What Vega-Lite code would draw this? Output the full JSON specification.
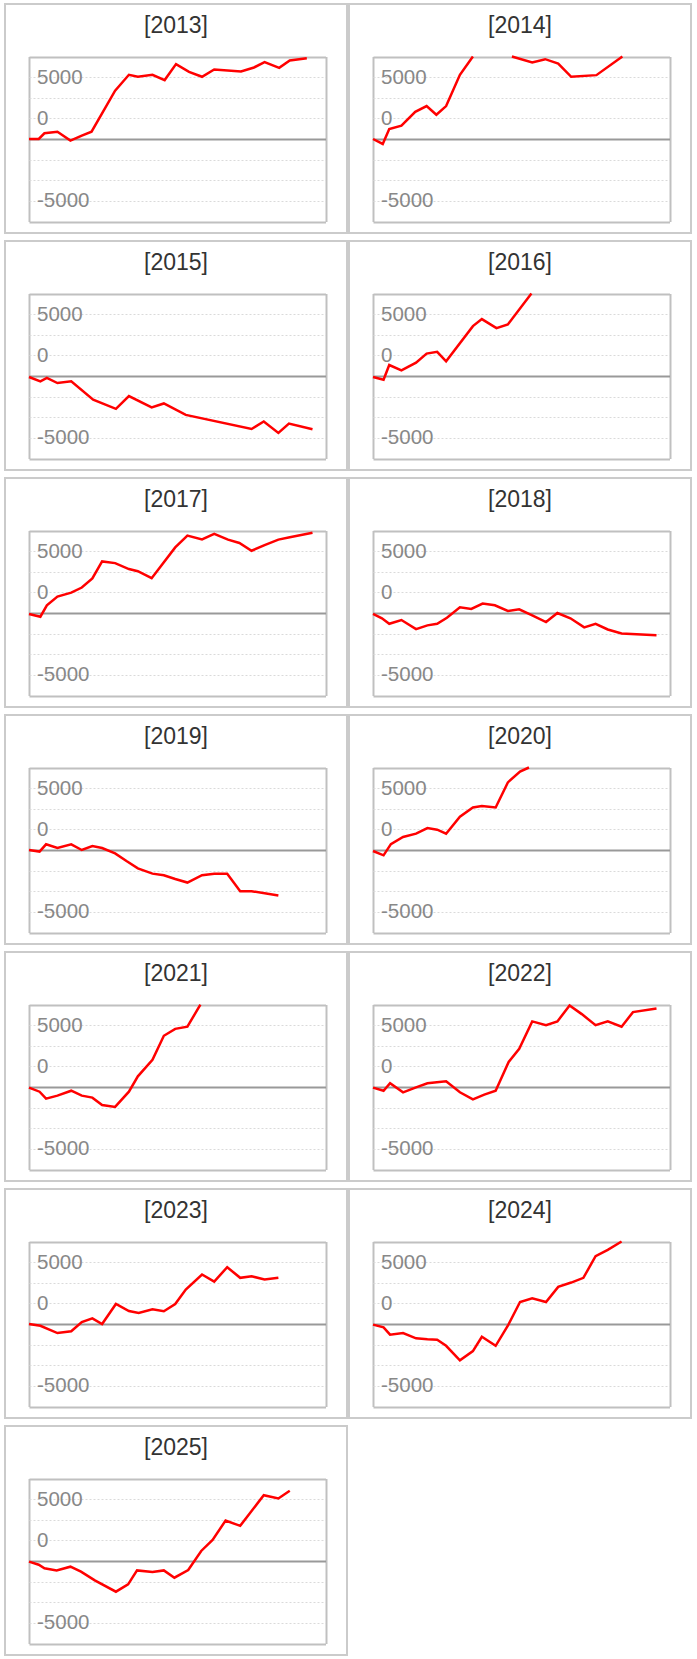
{
  "$schema": "https://vega.github.io/schema/vega-lite/v6.json",
  "background": "white",
  "padding": {"left": 4, "top": 3, "right": 0, "bottom": 3},
  "data": {
    "values": [
      {"year": 2013, "day": 0, "value": 0}, {"year": 2013, "day": 12, "value": 0}, {"year": 2013, "day": 19, "value": 460}, {"year": 2013, "day": 35, "value": 590},
      {"year": 2013, "day": 51, "value": -130}, {"year": 2013, "day": 65, "value": 270}, {"year": 2013, "day": 77, "value": 590}, {"year": 2013, "day": 106, "value": 3900},
      {"year": 2013, "day": 123, "value": 5190}, {"year": 2013, "day": 134, "value": 5030}, {"year": 2013, "day": 152, "value": 5190}, {"year": 2013, "day": 167, "value": 4760},
      {"year": 2013, "day": 181, "value": 6050}, {"year": 2013, "day": 197, "value": 5430}, {"year": 2013, "day": 213, "value": 5030}, {"year": 2013, "day": 228, "value": 5620},
      {"year": 2013, "day": 261, "value": 5460}, {"year": 2013, "day": 277, "value": 5780}, {"year": 2013, "day": 290, "value": 6210}, {"year": 2013, "day": 308, "value": 5750},
      {"year": 2013, "day": 321, "value": 6340}, {"year": 2013, "day": 342, "value": 6530},

      {"year": 2014, "day": 0, "value": 0}, {"year": 2014, "day": 12, "value": -400}, {"year": 2014, "day": 20, "value": 810}, {"year": 2014, "day": 35, "value": 1080},
      {"year": 2014, "day": 52, "value": 2200}, {"year": 2014, "day": 66, "value": 2660}, {"year": 2014, "day": 78, "value": 1960}, {"year": 2014, "day": 90, "value": 2660},
      {"year": 2014, "day": 107, "value": 5190}, {"year": 2014, "day": 123, "value": 6666},
      {"year": 2014, "day": 171, "value": 6666, "seg": 2}, {"year": 2014, "day": 196, "value": 6180, "seg": 2}, {"year": 2014, "day": 212, "value": 6450, "seg": 2},
      {"year": 2014, "day": 228, "value": 6100, "seg": 2}, {"year": 2014, "day": 244, "value": 5030, "seg": 2}, {"year": 2014, "day": 275, "value": 5160, "seg": 2},
      {"year": 2014, "day": 307, "value": 6666, "seg": 2},

      {"year": 2015, "day": 0, "value": -80}, {"year": 2015, "day": 14, "value": -430}, {"year": 2015, "day": 22, "value": -160}, {"year": 2015, "day": 35, "value": -570},
      {"year": 2015, "day": 52, "value": -430}, {"year": 2015, "day": 79, "value": -1920}, {"year": 2015, "day": 107, "value": -2650}, {"year": 2015, "day": 123, "value": -1620},
      {"year": 2015, "day": 151, "value": -2540}, {"year": 2015, "day": 166, "value": -2220}, {"year": 2015, "day": 193, "value": -3140}, {"year": 2015, "day": 274, "value": -4280},
      {"year": 2015, "day": 289, "value": -3680}, {"year": 2015, "day": 307, "value": -4600}, {"year": 2015, "day": 320, "value": -3840}, {"year": 2015, "day": 349, "value": -4300},

      {"year": 2016, "day": 0, "value": -80}, {"year": 2016, "day": 13, "value": -300}, {"year": 2016, "day": 20, "value": 890}, {"year": 2016, "day": 35, "value": 460},
      {"year": 2016, "day": 53, "value": 1080}, {"year": 2016, "day": 66, "value": 1810}, {"year": 2016, "day": 79, "value": 1950}, {"year": 2016, "day": 90, "value": 1190},
      {"year": 2016, "day": 123, "value": 4030}, {"year": 2016, "day": 134, "value": 4600}, {"year": 2016, "day": 152, "value": 3870}, {"year": 2016, "day": 166, "value": 4170},
      {"year": 2016, "day": 195, "value": 6666},

      {"year": 2017, "day": 0, "value": -80}, {"year": 2017, "day": 14, "value": -300}, {"year": 2017, "day": 22, "value": 620}, {"year": 2017, "day": 35, "value": 1330},
      {"year": 2017, "day": 52, "value": 1650}, {"year": 2017, "day": 65, "value": 2060}, {"year": 2017, "day": 78, "value": 2790}, {"year": 2017, "day": 90, "value": 4170},
      {"year": 2017, "day": 106, "value": 4030}, {"year": 2017, "day": 123, "value": 3550}, {"year": 2017, "day": 134, "value": 3380}, {"year": 2017, "day": 151, "value": 2810},
      {"year": 2017, "day": 180, "value": 5300}, {"year": 2017, "day": 195, "value": 6250}, {"year": 2017, "day": 213, "value": 5950}, {"year": 2017, "day": 228, "value": 6390},
      {"year": 2017, "day": 245, "value": 5930}, {"year": 2017, "day": 259, "value": 5660}, {"year": 2017, "day": 274, "value": 5030}, {"year": 2017, "day": 290, "value": 5490},
      {"year": 2017, "day": 307, "value": 5930}, {"year": 2017, "day": 321, "value": 6120}, {"year": 2017, "day": 349, "value": 6490},

      {"year": 2018, "day": 0, "value": -80}, {"year": 2018, "day": 11, "value": -430}, {"year": 2018, "day": 20, "value": -870}, {"year": 2018, "day": 35, "value": -570},
      {"year": 2018, "day": 53, "value": -1300}, {"year": 2018, "day": 67, "value": -1000}, {"year": 2018, "day": 79, "value": -870}, {"year": 2018, "day": 91, "value": -380},
      {"year": 2018, "day": 107, "value": 460}, {"year": 2018, "day": 121, "value": 330}, {"year": 2018, "day": 135, "value": 760}, {"year": 2018, "day": 150, "value": 620},
      {"year": 2018, "day": 166, "value": 160}, {"year": 2018, "day": 180, "value": 300}, {"year": 2018, "day": 196, "value": -190}, {"year": 2018, "day": 213, "value": -730},
      {"year": 2018, "day": 227, "value": 0}, {"year": 2018, "day": 243, "value": -430}, {"year": 2018, "day": 260, "value": -1160}, {"year": 2018, "day": 274, "value": -870},
      {"year": 2018, "day": 289, "value": -1330}, {"year": 2018, "day": 306, "value": -1650}, {"year": 2018, "day": 349, "value": -1790},

      {"year": 2019, "day": 0, "value": 0}, {"year": 2019, "day": 13, "value": -130}, {"year": 2019, "day": 21, "value": 460}, {"year": 2019, "day": 35, "value": 160},
      {"year": 2019, "day": 52, "value": 460}, {"year": 2019, "day": 65, "value": 0}, {"year": 2019, "day": 78, "value": 320}, {"year": 2019, "day": 90, "value": 160},
      {"year": 2019, "day": 106, "value": -270}, {"year": 2019, "day": 120, "value": -890}, {"year": 2019, "day": 134, "value": -1480}, {"year": 2019, "day": 152, "value": -1910},
      {"year": 2019, "day": 166, "value": -2040}, {"year": 2019, "day": 180, "value": -2340}, {"year": 2019, "day": 195, "value": -2630}, {"year": 2019, "day": 213, "value": -2040},
      {"year": 2019, "day": 228, "value": -1910}, {"year": 2019, "day": 244, "value": -1910}, {"year": 2019, "day": 260, "value": -3330}, {"year": 2019, "day": 274, "value": -3330},
      {"year": 2019, "day": 307, "value": -3680},

      {"year": 2020, "day": 0, "value": -80}, {"year": 2020, "day": 13, "value": -430}, {"year": 2020, "day": 22, "value": 480}, {"year": 2020, "day": 37, "value": 1050},
      {"year": 2020, "day": 53, "value": 1320}, {"year": 2020, "day": 67, "value": 1770}, {"year": 2020, "day": 79, "value": 1640}, {"year": 2020, "day": 90, "value": 1320},
      {"year": 2020, "day": 107, "value": 2690}, {"year": 2020, "day": 123, "value": 3440}, {"year": 2020, "day": 134, "value": 3550}, {"year": 2020, "day": 151, "value": 3440},
      {"year": 2020, "day": 166, "value": 5460}, {"year": 2020, "day": 181, "value": 6340}, {"year": 2020, "day": 192, "value": 6666},

      {"year": 2021, "day": 0, "value": -50}, {"year": 2021, "day": 13, "value": -380}, {"year": 2021, "day": 21, "value": -940}, {"year": 2021, "day": 35, "value": -700},
      {"year": 2021, "day": 52, "value": -300}, {"year": 2021, "day": 65, "value": -700}, {"year": 2021, "day": 78, "value": -860}, {"year": 2021, "day": 90, "value": -1450},
      {"year": 2021, "day": 106, "value": -1610}, {"year": 2021, "day": 123, "value": -380}, {"year": 2021, "day": 134, "value": 860}, {"year": 2021, "day": 152, "value": 2200},
      {"year": 2021, "day": 166, "value": 4140}, {"year": 2021, "day": 180, "value": 4700}, {"year": 2021, "day": 195, "value": 4870}, {"year": 2021, "day": 211, "value": 6666},

      {"year": 2022, "day": 0, "value": -50}, {"year": 2022, "day": 13, "value": -300}, {"year": 2022, "day": 21, "value": 300}, {"year": 2022, "day": 37, "value": -430},
      {"year": 2022, "day": 53, "value": -30}, {"year": 2022, "day": 67, "value": 300}, {"year": 2022, "day": 90, "value": 460}, {"year": 2022, "day": 107, "value": -430},
      {"year": 2022, "day": 123, "value": -1000}, {"year": 2022, "day": 137, "value": -620}, {"year": 2022, "day": 151, "value": -300}, {"year": 2022, "day": 167, "value": 2020},
      {"year": 2022, "day": 180, "value": 3090}, {"year": 2022, "day": 196, "value": 5300}, {"year": 2022, "day": 213, "value": 5000}, {"year": 2022, "day": 227, "value": 5300},
      {"year": 2022, "day": 242, "value": 6590}, {"year": 2022, "day": 257, "value": 5890}, {"year": 2022, "day": 274, "value": 5000}, {"year": 2022, "day": 289, "value": 5300},
      {"year": 2022, "day": 306, "value": 4870}, {"year": 2022, "day": 320, "value": 6050}, {"year": 2022, "day": 349, "value": 6340},

      {"year": 2023, "day": 0, "value": 0}, {"year": 2023, "day": 14, "value": -140}, {"year": 2023, "day": 35, "value": -730}, {"year": 2023, "day": 52, "value": -590},
      {"year": 2023, "day": 65, "value": 160}, {"year": 2023, "day": 78, "value": 460}, {"year": 2023, "day": 90, "value": 0}, {"year": 2023, "day": 107, "value": 1620},
      {"year": 2023, "day": 123, "value": 1050}, {"year": 2023, "day": 135, "value": 890}, {"year": 2023, "day": 152, "value": 1190}, {"year": 2023, "day": 166, "value": 1030},
      {"year": 2023, "day": 180, "value": 1620}, {"year": 2023, "day": 193, "value": 2780}, {"year": 2023, "day": 213, "value": 4000}, {"year": 2023, "day": 228, "value": 3430},
      {"year": 2023, "day": 244, "value": 4590}, {"year": 2023, "day": 260, "value": 3730}, {"year": 2023, "day": 274, "value": 3860}, {"year": 2023, "day": 290, "value": 3590},
      {"year": 2023, "day": 307, "value": 3730},

      {"year": 2024, "day": 0, "value": -50}, {"year": 2024, "day": 13, "value": -270}, {"year": 2024, "day": 21, "value": -860}, {"year": 2024, "day": 37, "value": -730},
      {"year": 2024, "day": 53, "value": -1160}, {"year": 2024, "day": 67, "value": -1240}, {"year": 2024, "day": 79, "value": -1270}, {"year": 2024, "day": 90, "value": -1760},
      {"year": 2024, "day": 107, "value": -2940}, {"year": 2024, "day": 123, "value": -2190}, {"year": 2024, "day": 134, "value": -1030}, {"year": 2024, "day": 151, "value": -1760},
      {"year": 2024, "day": 166, "value": -140}, {"year": 2024, "day": 181, "value": 1780}, {"year": 2024, "day": 196, "value": 2080}, {"year": 2024, "day": 213, "value": 1780},
      {"year": 2024, "day": 228, "value": 3000}, {"year": 2024, "day": 244, "value": 3350}, {"year": 2024, "day": 259, "value": 3730}, {"year": 2024, "day": 274, "value": 5480},
      {"year": 2024, "day": 289, "value": 5990}, {"year": 2024, "day": 306, "value": 6666},

      {"year": 2025, "day": 0, "value": -50}, {"year": 2025, "day": 12, "value": -300}, {"year": 2025, "day": 19, "value": -590}, {"year": 2025, "day": 34, "value": -760},
      {"year": 2025, "day": 51, "value": -460}, {"year": 2025, "day": 64, "value": -860}, {"year": 2025, "day": 81, "value": -1570}, {"year": 2025, "day": 107, "value": -2480},
      {"year": 2025, "day": 122, "value": -1890}, {"year": 2025, "day": 133, "value": -760}, {"year": 2025, "day": 152, "value": -890}, {"year": 2025, "day": 166, "value": -760},
      {"year": 2025, "day": 179, "value": -1350}, {"year": 2025, "day": 196, "value": -730}, {"year": 2025, "day": 212, "value": 810}, {"year": 2025, "day": 226, "value": 1700},
      {"year": 2025, "day": 242, "value": 3270}, {"year": 2025, "day": 260, "value": 2840}, {"year": 2025, "day": 289, "value": 5320}, {"year": 2025, "day": 307, "value": 5050},
      {"year": 2025, "day": 321, "value": 5670}
    ]
  },
  "columns": 2,
  "spacing": {"row": 6, "column": 0},
  "concat": [
    {
      "title": "[2013]",
      "transform": [{"filter": "datum.year == 2013"}],
      "mark": {"type": "line", "color": "#ff0000", "strokeWidth": 2.5},
      "encoding": {
        "x": {"field": "day", "type": "quantitative", "title": null, "scale": {"domain": [0, 365], "range": [24, 320.5]},
          "axis": {"orient": "top", "values": [0, 365], "labels": false, "ticks": false, "domain": false, "grid": true, "gridColor": "#c0c0c0", "gridWidth": 2}},
        "y": {"field": "value", "type": "quantitative", "title": null,
          "scale": {"domain": [-6666.666666666667, 6666.666666666667], "range": [217.5, 52.5]},
          "axis": {"values": [-6666.666666666667, -5000, -3333.3333333333335, -1666.6666666666667, 0, 1666.6666666666667, 3333.3333333333335, 5000, 6666.666666666667],
            "labelExpr": "datum.value == 5000 ? '5000' : datum.value == -5000 ? '-5000' : abs(datum.value - 1666.67) < 1 ? '0' : ''",
            "gridColor": {"condition": [{"test": "abs(datum.value) > 6000", "value": "#c0c0c0"}, {"test": "datum.value == 0", "value": "#999999"}], "value": "#dadada"},
            "gridWidth": {"condition": {"test": "abs(datum.value) > 6000 || datum.value == 0", "value": 2}, "value": 1},
            "gridDash": {"condition": {"test": "abs(datum.value) > 6000 || datum.value == 0", "value": []}, "value": [2, 2]}}},
        "detail": {"field": "seg"}
      }
    },
    {
      "title": "[2014]",
      "transform": [{"filter": "datum.year == 2014"}],
      "mark": {"type": "line", "color": "#ff0000", "strokeWidth": 2.5},
      "encoding": {
        "x": {"field": "day", "type": "quantitative", "title": null, "scale": {"domain": [0, 365], "range": [24, 320.5]},
          "axis": {"orient": "top", "values": [0, 365], "labels": false, "ticks": false, "domain": false, "grid": true, "gridColor": "#c0c0c0", "gridWidth": 2}},
        "y": {"field": "value", "type": "quantitative", "title": null,
          "scale": {"domain": [-6666.666666666667, 6666.666666666667], "range": [217.5, 52.5]},
          "axis": {"values": [-6666.666666666667, -5000, -3333.3333333333335, -1666.6666666666667, 0, 1666.6666666666667, 3333.3333333333335, 5000, 6666.666666666667],
            "labelExpr": "datum.value == 5000 ? '5000' : datum.value == -5000 ? '-5000' : abs(datum.value - 1666.67) < 1 ? '0' : ''",
            "gridColor": {"condition": [{"test": "abs(datum.value) > 6000", "value": "#c0c0c0"}, {"test": "datum.value == 0", "value": "#999999"}], "value": "#dadada"},
            "gridWidth": {"condition": {"test": "abs(datum.value) > 6000 || datum.value == 0", "value": 2}, "value": 1},
            "gridDash": {"condition": {"test": "abs(datum.value) > 6000 || datum.value == 0", "value": []}, "value": [2, 2]}}},
        "detail": {"field": "seg"}
      }
    },
    {
      "title": "[2015]",
      "transform": [{"filter": "datum.year == 2015"}],
      "mark": {"type": "line", "color": "#ff0000", "strokeWidth": 2.5},
      "encoding": {
        "x": {"field": "day", "type": "quantitative", "title": null, "scale": {"domain": [0, 365], "range": [24, 320.5]},
          "axis": {"orient": "top", "values": [0, 365], "labels": false, "ticks": false, "domain": false, "grid": true, "gridColor": "#c0c0c0", "gridWidth": 2}},
        "y": {"field": "value", "type": "quantitative", "title": null,
          "scale": {"domain": [-6666.666666666667, 6666.666666666667], "range": [217.5, 52.5]},
          "axis": {"values": [-6666.666666666667, -5000, -3333.3333333333335, -1666.6666666666667, 0, 1666.6666666666667, 3333.3333333333335, 5000, 6666.666666666667],
            "labelExpr": "datum.value == 5000 ? '5000' : datum.value == -5000 ? '-5000' : abs(datum.value - 1666.67) < 1 ? '0' : ''",
            "gridColor": {"condition": [{"test": "abs(datum.value) > 6000", "value": "#c0c0c0"}, {"test": "datum.value == 0", "value": "#999999"}], "value": "#dadada"},
            "gridWidth": {"condition": {"test": "abs(datum.value) > 6000 || datum.value == 0", "value": 2}, "value": 1},
            "gridDash": {"condition": {"test": "abs(datum.value) > 6000 || datum.value == 0", "value": []}, "value": [2, 2]}}},
        "detail": {"field": "seg"}
      }
    },
    {
      "title": "[2016]",
      "transform": [{"filter": "datum.year == 2016"}],
      "mark": {"type": "line", "color": "#ff0000", "strokeWidth": 2.5},
      "encoding": {
        "x": {"field": "day", "type": "quantitative", "title": null, "scale": {"domain": [0, 365], "range": [24, 320.5]},
          "axis": {"orient": "top", "values": [0, 365], "labels": false, "ticks": false, "domain": false, "grid": true, "gridColor": "#c0c0c0", "gridWidth": 2}},
        "y": {"field": "value", "type": "quantitative", "title": null,
          "scale": {"domain": [-6666.666666666667, 6666.666666666667], "range": [217.5, 52.5]},
          "axis": {"values": [-6666.666666666667, -5000, -3333.3333333333335, -1666.6666666666667, 0, 1666.6666666666667, 3333.3333333333335, 5000, 6666.666666666667],
            "labelExpr": "datum.value == 5000 ? '5000' : datum.value == -5000 ? '-5000' : abs(datum.value - 1666.67) < 1 ? '0' : ''",
            "gridColor": {"condition": [{"test": "abs(datum.value) > 6000", "value": "#c0c0c0"}, {"test": "datum.value == 0", "value": "#999999"}], "value": "#dadada"},
            "gridWidth": {"condition": {"test": "abs(datum.value) > 6000 || datum.value == 0", "value": 2}, "value": 1},
            "gridDash": {"condition": {"test": "abs(datum.value) > 6000 || datum.value == 0", "value": []}, "value": [2, 2]}}},
        "detail": {"field": "seg"}
      }
    },
    {
      "title": "[2017]",
      "transform": [{"filter": "datum.year == 2017"}],
      "mark": {"type": "line", "color": "#ff0000", "strokeWidth": 2.5},
      "encoding": {
        "x": {"field": "day", "type": "quantitative", "title": null, "scale": {"domain": [0, 365], "range": [24, 320.5]},
          "axis": {"orient": "top", "values": [0, 365], "labels": false, "ticks": false, "domain": false, "grid": true, "gridColor": "#c0c0c0", "gridWidth": 2}},
        "y": {"field": "value", "type": "quantitative", "title": null,
          "scale": {"domain": [-6666.666666666667, 6666.666666666667], "range": [217.5, 52.5]},
          "axis": {"values": [-6666.666666666667, -5000, -3333.3333333333335, -1666.6666666666667, 0, 1666.6666666666667, 3333.3333333333335, 5000, 6666.666666666667],
            "labelExpr": "datum.value == 5000 ? '5000' : datum.value == -5000 ? '-5000' : abs(datum.value - 1666.67) < 1 ? '0' : ''",
            "gridColor": {"condition": [{"test": "abs(datum.value) > 6000", "value": "#c0c0c0"}, {"test": "datum.value == 0", "value": "#999999"}], "value": "#dadada"},
            "gridWidth": {"condition": {"test": "abs(datum.value) > 6000 || datum.value == 0", "value": 2}, "value": 1},
            "gridDash": {"condition": {"test": "abs(datum.value) > 6000 || datum.value == 0", "value": []}, "value": [2, 2]}}},
        "detail": {"field": "seg"}
      }
    },
    {
      "title": "[2018]",
      "transform": [{"filter": "datum.year == 2018"}],
      "mark": {"type": "line", "color": "#ff0000", "strokeWidth": 2.5},
      "encoding": {
        "x": {"field": "day", "type": "quantitative", "title": null, "scale": {"domain": [0, 365], "range": [24, 320.5]},
          "axis": {"orient": "top", "values": [0, 365], "labels": false, "ticks": false, "domain": false, "grid": true, "gridColor": "#c0c0c0", "gridWidth": 2}},
        "y": {"field": "value", "type": "quantitative", "title": null,
          "scale": {"domain": [-6666.666666666667, 6666.666666666667], "range": [217.5, 52.5]},
          "axis": {"values": [-6666.666666666667, -5000, -3333.3333333333335, -1666.6666666666667, 0, 1666.6666666666667, 3333.3333333333335, 5000, 6666.666666666667],
            "labelExpr": "datum.value == 5000 ? '5000' : datum.value == -5000 ? '-5000' : abs(datum.value - 1666.67) < 1 ? '0' : ''",
            "gridColor": {"condition": [{"test": "abs(datum.value) > 6000", "value": "#c0c0c0"}, {"test": "datum.value == 0", "value": "#999999"}], "value": "#dadada"},
            "gridWidth": {"condition": {"test": "abs(datum.value) > 6000 || datum.value == 0", "value": 2}, "value": 1},
            "gridDash": {"condition": {"test": "abs(datum.value) > 6000 || datum.value == 0", "value": []}, "value": [2, 2]}}},
        "detail": {"field": "seg"}
      }
    },
    {
      "title": "[2019]",
      "transform": [{"filter": "datum.year == 2019"}],
      "mark": {"type": "line", "color": "#ff0000", "strokeWidth": 2.5},
      "encoding": {
        "x": {"field": "day", "type": "quantitative", "title": null, "scale": {"domain": [0, 365], "range": [24, 320.5]},
          "axis": {"orient": "top", "values": [0, 365], "labels": false, "ticks": false, "domain": false, "grid": true, "gridColor": "#c0c0c0", "gridWidth": 2}},
        "y": {"field": "value", "type": "quantitative", "title": null,
          "scale": {"domain": [-6666.666666666667, 6666.666666666667], "range": [217.5, 52.5]},
          "axis": {"values": [-6666.666666666667, -5000, -3333.3333333333335, -1666.6666666666667, 0, 1666.6666666666667, 3333.3333333333335, 5000, 6666.666666666667],
            "labelExpr": "datum.value == 5000 ? '5000' : datum.value == -5000 ? '-5000' : abs(datum.value - 1666.67) < 1 ? '0' : ''",
            "gridColor": {"condition": [{"test": "abs(datum.value) > 6000", "value": "#c0c0c0"}, {"test": "datum.value == 0", "value": "#999999"}], "value": "#dadada"},
            "gridWidth": {"condition": {"test": "abs(datum.value) > 6000 || datum.value == 0", "value": 2}, "value": 1},
            "gridDash": {"condition": {"test": "abs(datum.value) > 6000 || datum.value == 0", "value": []}, "value": [2, 2]}}},
        "detail": {"field": "seg"}
      }
    },
    {
      "title": "[2020]",
      "transform": [{"filter": "datum.year == 2020"}],
      "mark": {"type": "line", "color": "#ff0000", "strokeWidth": 2.5},
      "encoding": {
        "x": {"field": "day", "type": "quantitative", "title": null, "scale": {"domain": [0, 365], "range": [24, 320.5]},
          "axis": {"orient": "top", "values": [0, 365], "labels": false, "ticks": false, "domain": false, "grid": true, "gridColor": "#c0c0c0", "gridWidth": 2}},
        "y": {"field": "value", "type": "quantitative", "title": null,
          "scale": {"domain": [-6666.666666666667, 6666.666666666667], "range": [217.5, 52.5]},
          "axis": {"values": [-6666.666666666667, -5000, -3333.3333333333335, -1666.6666666666667, 0, 1666.6666666666667, 3333.3333333333335, 5000, 6666.666666666667],
            "labelExpr": "datum.value == 5000 ? '5000' : datum.value == -5000 ? '-5000' : abs(datum.value - 1666.67) < 1 ? '0' : ''",
            "gridColor": {"condition": [{"test": "abs(datum.value) > 6000", "value": "#c0c0c0"}, {"test": "datum.value == 0", "value": "#999999"}], "value": "#dadada"},
            "gridWidth": {"condition": {"test": "abs(datum.value) > 6000 || datum.value == 0", "value": 2}, "value": 1},
            "gridDash": {"condition": {"test": "abs(datum.value) > 6000 || datum.value == 0", "value": []}, "value": [2, 2]}}},
        "detail": {"field": "seg"}
      }
    },
    {
      "title": "[2021]",
      "transform": [{"filter": "datum.year == 2021"}],
      "mark": {"type": "line", "color": "#ff0000", "strokeWidth": 2.5},
      "encoding": {
        "x": {"field": "day", "type": "quantitative", "title": null, "scale": {"domain": [0, 365], "range": [24, 320.5]},
          "axis": {"orient": "top", "values": [0, 365], "labels": false, "ticks": false, "domain": false, "grid": true, "gridColor": "#c0c0c0", "gridWidth": 2}},
        "y": {"field": "value", "type": "quantitative", "title": null,
          "scale": {"domain": [-6666.666666666667, 6666.666666666667], "range": [217.5, 52.5]},
          "axis": {"values": [-6666.666666666667, -5000, -3333.3333333333335, -1666.6666666666667, 0, 1666.6666666666667, 3333.3333333333335, 5000, 6666.666666666667],
            "labelExpr": "datum.value == 5000 ? '5000' : datum.value == -5000 ? '-5000' : abs(datum.value - 1666.67) < 1 ? '0' : ''",
            "gridColor": {"condition": [{"test": "abs(datum.value) > 6000", "value": "#c0c0c0"}, {"test": "datum.value == 0", "value": "#999999"}], "value": "#dadada"},
            "gridWidth": {"condition": {"test": "abs(datum.value) > 6000 || datum.value == 0", "value": 2}, "value": 1},
            "gridDash": {"condition": {"test": "abs(datum.value) > 6000 || datum.value == 0", "value": []}, "value": [2, 2]}}},
        "detail": {"field": "seg"}
      }
    },
    {
      "title": "[2022]",
      "transform": [{"filter": "datum.year == 2022"}],
      "mark": {"type": "line", "color": "#ff0000", "strokeWidth": 2.5},
      "encoding": {
        "x": {"field": "day", "type": "quantitative", "title": null, "scale": {"domain": [0, 365], "range": [24, 320.5]},
          "axis": {"orient": "top", "values": [0, 365], "labels": false, "ticks": false, "domain": false, "grid": true, "gridColor": "#c0c0c0", "gridWidth": 2}},
        "y": {"field": "value", "type": "quantitative", "title": null,
          "scale": {"domain": [-6666.666666666667, 6666.666666666667], "range": [217.5, 52.5]},
          "axis": {"values": [-6666.666666666667, -5000, -3333.3333333333335, -1666.6666666666667, 0, 1666.6666666666667, 3333.3333333333335, 5000, 6666.666666666667],
            "labelExpr": "datum.value == 5000 ? '5000' : datum.value == -5000 ? '-5000' : abs(datum.value - 1666.67) < 1 ? '0' : ''",
            "gridColor": {"condition": [{"test": "abs(datum.value) > 6000", "value": "#c0c0c0"}, {"test": "datum.value == 0", "value": "#999999"}], "value": "#dadada"},
            "gridWidth": {"condition": {"test": "abs(datum.value) > 6000 || datum.value == 0", "value": 2}, "value": 1},
            "gridDash": {"condition": {"test": "abs(datum.value) > 6000 || datum.value == 0", "value": []}, "value": [2, 2]}}},
        "detail": {"field": "seg"}
      }
    },
    {
      "title": "[2023]",
      "transform": [{"filter": "datum.year == 2023"}],
      "mark": {"type": "line", "color": "#ff0000", "strokeWidth": 2.5},
      "encoding": {
        "x": {"field": "day", "type": "quantitative", "title": null, "scale": {"domain": [0, 365], "range": [24, 320.5]},
          "axis": {"orient": "top", "values": [0, 365], "labels": false, "ticks": false, "domain": false, "grid": true, "gridColor": "#c0c0c0", "gridWidth": 2}},
        "y": {"field": "value", "type": "quantitative", "title": null,
          "scale": {"domain": [-6666.666666666667, 6666.666666666667], "range": [217.5, 52.5]},
          "axis": {"values": [-6666.666666666667, -5000, -3333.3333333333335, -1666.6666666666667, 0, 1666.6666666666667, 3333.3333333333335, 5000, 6666.666666666667],
            "labelExpr": "datum.value == 5000 ? '5000' : datum.value == -5000 ? '-5000' : abs(datum.value - 1666.67) < 1 ? '0' : ''",
            "gridColor": {"condition": [{"test": "abs(datum.value) > 6000", "value": "#c0c0c0"}, {"test": "datum.value == 0", "value": "#999999"}], "value": "#dadada"},
            "gridWidth": {"condition": {"test": "abs(datum.value) > 6000 || datum.value == 0", "value": 2}, "value": 1},
            "gridDash": {"condition": {"test": "abs(datum.value) > 6000 || datum.value == 0", "value": []}, "value": [2, 2]}}},
        "detail": {"field": "seg"}
      }
    },
    {
      "title": "[2024]",
      "transform": [{"filter": "datum.year == 2024"}],
      "mark": {"type": "line", "color": "#ff0000", "strokeWidth": 2.5},
      "encoding": {
        "x": {"field": "day", "type": "quantitative", "title": null, "scale": {"domain": [0, 365], "range": [24, 320.5]},
          "axis": {"orient": "top", "values": [0, 365], "labels": false, "ticks": false, "domain": false, "grid": true, "gridColor": "#c0c0c0", "gridWidth": 2}},
        "y": {"field": "value", "type": "quantitative", "title": null,
          "scale": {"domain": [-6666.666666666667, 6666.666666666667], "range": [217.5, 52.5]},
          "axis": {"values": [-6666.666666666667, -5000, -3333.3333333333335, -1666.6666666666667, 0, 1666.6666666666667, 3333.3333333333335, 5000, 6666.666666666667],
            "labelExpr": "datum.value == 5000 ? '5000' : datum.value == -5000 ? '-5000' : abs(datum.value - 1666.67) < 1 ? '0' : ''",
            "gridColor": {"condition": [{"test": "abs(datum.value) > 6000", "value": "#c0c0c0"}, {"test": "datum.value == 0", "value": "#999999"}], "value": "#dadada"},
            "gridWidth": {"condition": {"test": "abs(datum.value) > 6000 || datum.value == 0", "value": 2}, "value": 1},
            "gridDash": {"condition": {"test": "abs(datum.value) > 6000 || datum.value == 0", "value": []}, "value": [2, 2]}}},
        "detail": {"field": "seg"}
      }
    },
    {
      "title": "[2025]",
      "transform": [{"filter": "datum.year == 2025"}],
      "mark": {"type": "line", "color": "#ff0000", "strokeWidth": 2.5},
      "encoding": {
        "x": {"field": "day", "type": "quantitative", "title": null, "scale": {"domain": [0, 365], "range": [24, 320.5]},
          "axis": {"orient": "top", "values": [0, 365], "labels": false, "ticks": false, "domain": false, "grid": true, "gridColor": "#c0c0c0", "gridWidth": 2}},
        "y": {"field": "value", "type": "quantitative", "title": null,
          "scale": {"domain": [-6666.666666666667, 6666.666666666667], "range": [217.5, 52.5]},
          "axis": {"values": [-6666.666666666667, -5000, -3333.3333333333335, -1666.6666666666667, 0, 1666.6666666666667, 3333.3333333333335, 5000, 6666.666666666667],
            "labelExpr": "datum.value == 5000 ? '5000' : datum.value == -5000 ? '-5000' : abs(datum.value - 1666.67) < 1 ? '0' : ''",
            "gridColor": {"condition": [{"test": "abs(datum.value) > 6000", "value": "#c0c0c0"}, {"test": "datum.value == 0", "value": "#999999"}], "value": "#dadada"},
            "gridWidth": {"condition": {"test": "abs(datum.value) > 6000 || datum.value == 0", "value": 2}, "value": 1},
            "gridDash": {"condition": {"test": "abs(datum.value) > 6000 || datum.value == 0", "value": []}, "value": [2, 2]}}},
        "detail": {"field": "seg"}
      }
    }
  ],
  "config": {
    "view": {"continuousWidth": 342, "continuousHeight": 229, "stroke": "#cbcbcb", "strokeWidth": 2},
    "title": {"font": "Liberation Sans", "fontSize": 23, "fontWeight": "normal", "color": "#333333", "anchor": "middle", "frame": "group", "offset": -34},
    "axisY": {
      "orient": "left", "ticks": false, "tickSize": 0, "domain": false, "grid": true,
      "labelFont": "Liberation Sans", "labelFontSize": 20.5, "labelColor": "#888888",
      "labelAlign": "left", "labelBaseline": "middle", "labelPadding": -31.5,
      "labelOverlap": false, "labelFlush": false
    }
  }
}
